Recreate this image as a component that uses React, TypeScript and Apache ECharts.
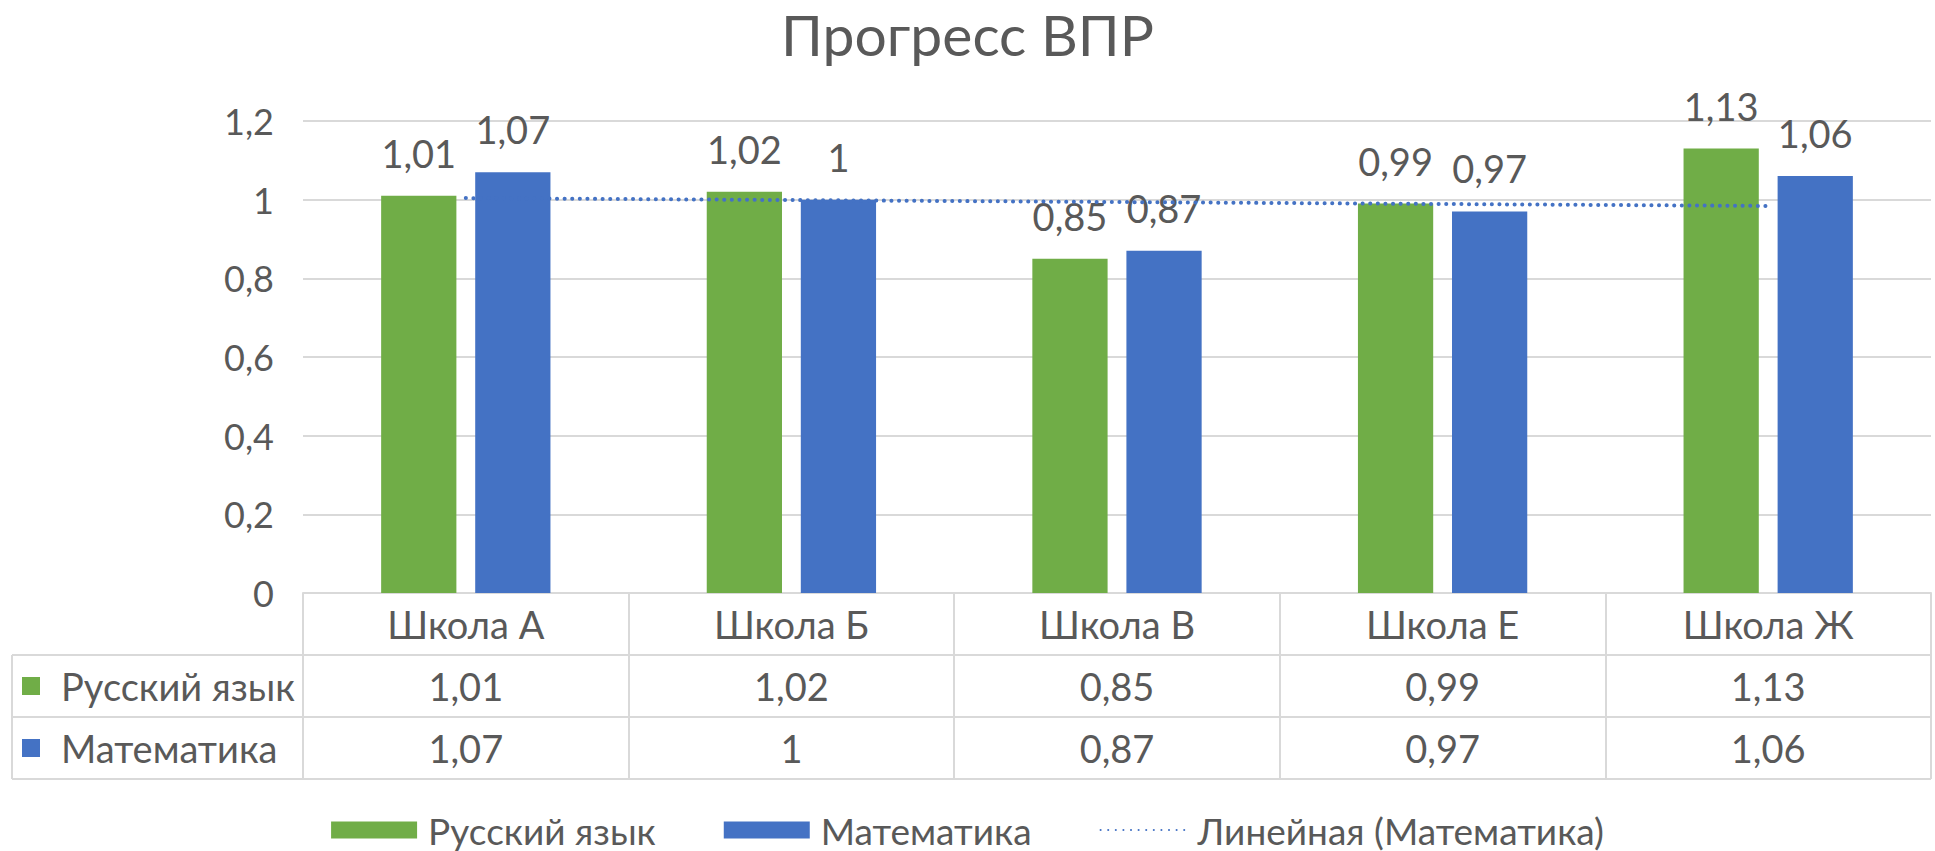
import React, { useEffect, useRef } from "react";
import * as echarts from "echarts";

const categories = ["Школа А", "Школа Б", "Школа В", "Школа Е", "Школа Ж"];
const russianValues = [1.01, 1.02, 0.85, 0.99, 1.13];
const mathValues = [1.07, 1, 0.87, 0.97, 1.06];
// Linear trendline of "Математика", read at its two ends (first and last category)
const trendEnds = [1.004, 0.984];
const seriesNames = ["Русский язык", "Математика", "Линейная (Математика)"];
const titleText = "Прогресс ВПР";

const W = 1935;
const H = 851;
const L = 303;
const R = 1931;
const T = 121;
const B = 593;
const ROW = 62;
const TABLE_LEFT = 12;

const GREEN = "#70AD47";
const BLUE = "#4472C4";
const TEXT = "#595959";
const GRID = "#D9D9D9";
const FONT = 'Lato, "Noto Sans", sans-serif';
const TABLE_FS = 38;

const fmt = (v: number) => String(v).replace(".", ",");

export default function App() {
  const ref = useRef<HTMLDivElement>(null);
  useEffect(() => {
    document.body.style.margin = "0";
    if (!ref.current) return;
    const chart = echarts.init(ref.current, null, { renderer: "svg" });

    const tableAxis = (data: string[], offset: number) => ({
      type: "category",
      data,
      position: "bottom",
      offset,
      axisLine: { show: true, lineStyle: { color: GRID, width: 2 } },
      axisTick: { show: true, alignWithLabel: false, length: ROW, inside: false, lineStyle: { color: GRID, width: 2 } },
      axisLabel: { interval: 0, fontSize: TABLE_FS, lineHeight: 40, color: TEXT, margin: 11, fontFamily: FONT },
      splitLine: { show: false },
    });

    const trendData: any[] = categories.map(() => "-");
    trendData[0] = trendEnds[0];
    trendData[categories.length - 1] = trendEnds[1];

    const rowY1 = B + ROW;
    const rowY2 = B + 2 * ROW;
    const rowY3 = B + 3 * ROW;

    const graphics: any[] = [
      { type: "line", shape: { x1: TABLE_LEFT, y1: rowY1, x2: L, y2: rowY1 }, style: { stroke: GRID, lineWidth: 2 } },
      { type: "line", shape: { x1: TABLE_LEFT, y1: rowY2, x2: L, y2: rowY2 }, style: { stroke: GRID, lineWidth: 2 } },
      { type: "line", shape: { x1: TABLE_LEFT, y1: rowY3, x2: R, y2: rowY3 }, style: { stroke: GRID, lineWidth: 2 } },
      { type: "line", shape: { x1: TABLE_LEFT, y1: rowY1, x2: TABLE_LEFT, y2: rowY3 }, style: { stroke: GRID, lineWidth: 2 } },
      { type: "rect", shape: { x: 22, y: rowY1 + ROW / 2 - 9, width: 18, height: 18 }, style: { fill: GREEN } },
      { type: "rect", shape: { x: 22, y: rowY2 + ROW / 2 - 9, width: 18, height: 18 }, style: { fill: BLUE } },
      {
        type: "text",
        x: 61,
        y: rowY1 + ROW / 2,
        style: { text: seriesNames[0], fontSize: TABLE_FS, fill: TEXT, fontFamily: FONT, verticalAlign: "middle" },
      },
      {
        type: "text",
        x: 61,
        y: rowY2 + ROW / 2,
        style: { text: seriesNames[1], fontSize: TABLE_FS, fill: TEXT, fontFamily: FONT, verticalAlign: "middle" },
      },
    ];

    chart.setOption({
      animation: false,
      backgroundColor: "#fff",
      title: {
        text: titleText,
        left: "center",
        top: 0,
        textStyle: { fontSize: 57, fontWeight: "normal", color: TEXT, fontFamily: FONT },
      },
      grid: { left: L, right: W - R, top: T, bottom: H - B, containLabel: false, outerBoundsMode: "none" },
      legend: {
        top: 810,
        left: "center",
        padding: 0,
        itemWidth: 86,
        itemHeight: 17,
        itemGap: 68,
        textStyle: { fontSize: 37, lineHeight: 40, color: TEXT, fontFamily: FONT, padding: [0, 0, 0, 6] },
        data: [
          { name: seriesNames[0], icon: "rect" },
          { name: seriesNames[1], icon: "rect" },
          { name: seriesNames[2], itemStyle: { opacity: 0 } },
        ],
      },
      xAxis: [
        tableAxis(categories, 0),
        tableAxis(russianValues.map(fmt), ROW),
        tableAxis(mathValues.map(fmt), 2 * ROW),
      ],
      yAxis: {
        type: "value",
        min: 0,
        max: 1.2,
        interval: 0.2,
        axisLine: { show: false },
        axisTick: { show: false },
        splitLine: { lineStyle: { color: GRID, width: 2 } },
        axisLabel: {
          fontSize: 36,
          color: TEXT,
          margin: 29,
          fontFamily: FONT,
          formatter: (v: number) => fmt(+v.toFixed(1)),
        },
      },
      series: [
        {
          name: seriesNames[0],
          type: "bar",
          data: russianValues,
          itemStyle: { color: GREEN },
          barGap: "25%",
          barCategoryGap: "48%",
          label: { show: true, position: "top", distance: 24, fontSize: 38, color: TEXT, fontFamily: FONT, formatter: (p: any) => fmt(p.value) },
        },
        {
          name: seriesNames[1],
          type: "bar",
          data: mathValues,
          itemStyle: { color: BLUE },
          barGap: "25%",
          barCategoryGap: "48%",
          label: { show: true, position: "top", distance: 24, fontSize: 38, color: TEXT, fontFamily: FONT, formatter: (p: any) => fmt(p.value) },
        },
        {
          name: seriesNames[2],
          type: "line",
          data: trendData,
          connectNulls: true,
          symbol: "none",
          z: 5,
          lineStyle: { color: BLUE, width: 4, type: [0.1, 7.5], cap: "round" },
          itemStyle: { color: BLUE },
          emphasis: { disabled: true },
        },
      ],
      graphic: graphics,
    });
    return () => chart.dispose();
  }, []);
  return <div ref={ref} style={{ width: W, height: H }} />;
}
